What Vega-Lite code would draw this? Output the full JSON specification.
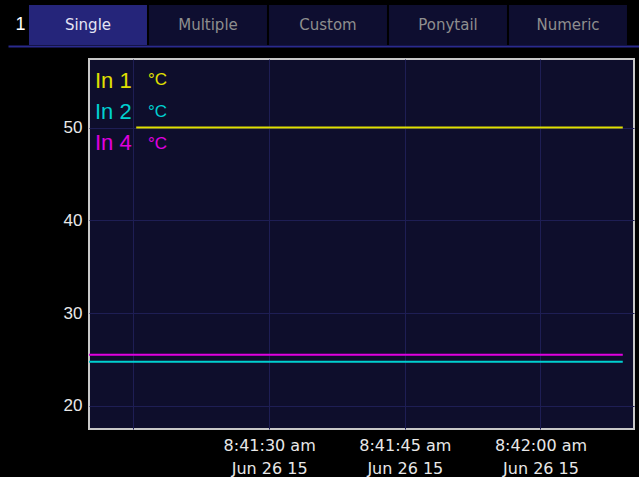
{
  "$schema": "https://vega.github.io/schema/vega-lite/v6.json",
  "background": "#000000",
  "padding": {"left": 8, "top": 5, "right": 0, "bottom": 0},
  "spacing": 12,
  "resolve": {"legend": {"color": "independent", "strokeDash": "independent"}},
  "datasets": {
    "tabs": [
      {"tab": "Single", "page": "1"},
      {"tab": "Multiple", "page": "1"},
      {"tab": "Custom", "page": "1"},
      {"tab": "Ponytail", "page": "1"},
      {"tab": "Numeric", "page": "1"}
    ],
    "readings": [
      {"time": "2015-06-26T08:41:15.300", "value": 50.0, "series": "In 1", "unit": "In 1 °C"},
      {"time": "2015-06-26T08:41:30.000", "value": 50.0, "series": "In 1", "unit": "In 1 °C"},
      {"time": "2015-06-26T08:41:45.000", "value": 50.0, "series": "In 1", "unit": "In 1 °C"},
      {"time": "2015-06-26T08:42:00.000", "value": 50.0, "series": "In 1", "unit": "In 1 °C"},
      {"time": "2015-06-26T08:42:09.100", "value": 50.0, "series": "In 1", "unit": "In 1 °C"},
      {"time": "2015-06-26T08:41:10.000", "value": 24.75, "series": "In 2", "unit": "In 2 °C"},
      {"time": "2015-06-26T08:41:30.000", "value": 24.75, "series": "In 2", "unit": "In 2 °C"},
      {"time": "2015-06-26T08:41:45.000", "value": 24.75, "series": "In 2", "unit": "In 2 °C"},
      {"time": "2015-06-26T08:42:00.000", "value": 24.75, "series": "In 2", "unit": "In 2 °C"},
      {"time": "2015-06-26T08:42:09.100", "value": 24.75, "series": "In 2", "unit": "In 2 °C"},
      {"time": "2015-06-26T08:41:10.000", "value": 25.5, "series": "In 4", "unit": "In 4 °C"},
      {"time": "2015-06-26T08:41:30.000", "value": 25.5, "series": "In 4", "unit": "In 4 °C"},
      {"time": "2015-06-26T08:41:45.000", "value": 25.5, "series": "In 4", "unit": "In 4 °C"},
      {"time": "2015-06-26T08:42:00.000", "value": 25.5, "series": "In 4", "unit": "In 4 °C"},
      {"time": "2015-06-26T08:42:09.100", "value": 25.5, "series": "In 4", "unit": "In 4 °C"}
    ]
  },
  "vconcat": [
    {
      "width": 631,
      "height": 40,
      "data": {"name": "tabs"},
      "view": {"stroke": null, "fill": null},
      "encoding": {
        "x": {
          "field": "tab", "type": "nominal", "sort": null,
          "scale": {"paddingInner": 0.01667, "paddingOuter": 0.1375, "align": 0.636},
          "axis": {"title": null, "labels": false, "ticks": false, "grid": false, "domain": true,
                   "domainColor": "#2a2a8e", "domainWidth": 2, "offset": 1, "minExtent": 0, "maxExtent": 0}
        },
        "y": {
          "field": "page", "type": "nominal",
          "scale": {"paddingInner": 0, "paddingOuter": 0},
          "axis": {"title": null, "domain": false, "ticks": false, "grid": false,
                   "labelAlign": "left", "labelPadding": -7, "labelFont": "Liberation Sans",
                   "labelFontSize": 18, "labelColor": "#ffffff", "minExtent": 0, "maxExtent": 0}
        }
      },
      "layer": [
        {
          "mark": {"type": "rect"},
          "encoding": {
            "color": {"condition": {"test": "datum.tab === 'Single'", "value": "#25257a"}, "value": "#0e0e30"}
          }
        },
        {
          "mark": {"type": "text", "font": "DejaVu Sans", "fontSize": 15, "baseline": "middle"},
          "encoding": {
            "text": {"field": "tab"},
            "color": {"condition": {"test": "datum.tab === 'Single'", "value": "#e4e4f4"}, "value": "#8e8e8e"}
          }
        }
      ]
    },
    {
      "spacing": 0,
      "resolve": {"legend": {"color": "independent", "strokeDash": "independent"}},
      "hconcat": [
        {
          "width": 50,
          "height": 370,
          "data": {"values": [{}]},
          "view": {"stroke": null, "fill": null},
          "mark": {"type": "text", "text": ""},
          "encoding": {}
        },
        {
          "width": 545,
          "height": 370,
          "data": {"name": "readings"},
          "view": {"stroke": "#c8c8c8", "strokeWidth": 2, "fill": "#0e0e2c"},
          "mark": {"type": "line", "strokeWidth": 2, "clip": true},
          "encoding": {
            "x": {
              "field": "time", "type": "temporal",
              "scale": {"domain": [
                {"year": 2015, "month": 6, "date": 26, "hours": 8, "minutes": 41, "seconds": 10, "milliseconds": 80},
                {"year": 2015, "month": 6, "date": 26, "hours": 8, "minutes": 42, "seconds": 10, "milliseconds": 340}
              ]},
              "axis": {
                "title": null,
                "values": [
                  {"year": 2015, "month": 6, "date": 26, "hours": 8, "minutes": 41, "seconds": 15},
                  {"year": 2015, "month": 6, "date": 26, "hours": 8, "minutes": 41, "seconds": 30},
                  {"year": 2015, "month": 6, "date": 26, "hours": 8, "minutes": 41, "seconds": 45},
                  {"year": 2015, "month": 6, "date": 26, "hours": 8, "minutes": 42, "seconds": 0}
                ],
                "domain": false, "ticks": false, "grid": true,
                "gridColor": "#1e1e54", "gridWidth": 1,
                "labelFont": "DejaVu Sans", "labelFontSize": 16, "labelColor": "#e8e8e8",
                "labelPadding": 8, "labelLineHeight": 23, "labelOverlap": false, "labelFlush": false,
                "labelExpr": "seconds(datum.value) === 15 ? '' : [timeFormat(datum.value, '%-I:%M:%S ') + lower(timeFormat(datum.value, '%p')), timeFormat(datum.value, '%b %d %y')]"
              }
            },
            "y": {
              "field": "value", "type": "quantitative",
              "scale": {"domain": [17.5, 57.4], "nice": false, "zero": false},
              "axis": {
                "title": null, "values": [20, 30, 40, 50],
                "domain": false, "ticks": false, "grid": true,
                "gridColor": "#1e1e54", "gridWidth": 1,
                "labelFont": "Liberation Sans", "labelFontSize": 17, "labelColor": "#e8e8e8",
                "labelPadding": 7, "minExtent": 30, "maxExtent": 30
              }
            },
            "color": {
              "field": "series", "type": "nominal",
              "scale": {"domain": ["In 1", "In 2", "In 4"], "range": ["#e0e000", "#00d0d0", "#e000e0"]},
              "legend": {
                "orient": "none", "legendX": -16, "legendY": 11, "title": null, "padding": 0,
                "symbolSize": 0, "symbolOpacity": 0, "symbolStrokeWidth": 0, "labelOffset": 0,
                "labelFont": "Liberation Sans", "labelFontSize": 22, "rowPadding": 9,
                "encode": {"labels": {"update": {"fill": {"scale": "color", "field": "value"}}}}
              }
            },
            "strokeDash": {
              "field": "unit", "type": "nominal",
              "scale": {"domain": ["In 1 °C", "In 2 °C", "In 4 °C"], "range": [[1, 0], [1, 0], [1, 0]]},
              "legend": {
                "orient": "none", "legendX": 42, "legendY": 12, "title": null, "padding": 0,
                "symbolSize": 0, "symbolOpacity": 0, "symbolStrokeWidth": 0, "labelOffset": 0,
                "labelFont": "Liberation Sans", "labelFontSize": 17, "rowPadding": 14,
                "labelExpr": "split(datum.label, ' ')[2]",
                "encode": {"labels": {"update": {"fill": {"signal": "scale('color', slice(datum.value, 0, 4))"}}}}
              }
            }
          }
        }
      ]
    }
  ]
}
